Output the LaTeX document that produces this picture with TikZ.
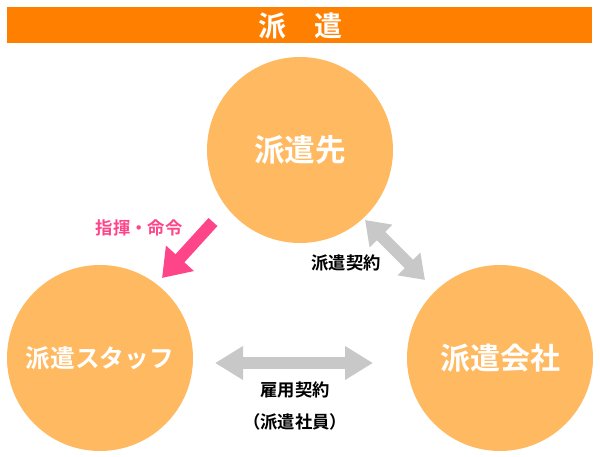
\documentclass[tikz,border=0pt]{standalone}
\usepackage{fontspec}
\newfontfamily\jp{Noto Sans CJK JP}[BoldFont={Noto Sans CJK JP Bold}]
\usetikzlibrary{arrows.meta}
\definecolor{banner}{HTML}{FF7F00}
\definecolor{disc}{HTML}{FFB961}
\definecolor{order}{HTML}{FF4589}
\definecolor{contract}{HTML}{C8C8C8}
\tikzset{
	party/.style={circle,fill=disc,minimum size=139.5pt,inner sep=0pt,text=white,font=\jp\bfseries},
	label/.style={font=\jp\bfseries\fontsize{13pt}{15pt}\selectfont},
	fat/.style={line width=9pt,draw=contract}
}
\begin{document}
\begin{tikzpicture}[x=0.75pt,y=-0.75pt]
			\useasboundingbox (0,0) rectangle (600,457);
			\fill[banner] (7,7) rectangle (592,43);
			\node[text=white,font=\jp\bfseries\fontsize{21pt}{24pt}\selectfont] (title) at (300,26) {派\hspace{1em}遣};
			
			\node[party,font=\jp\bfseries\fontsize{23pt}{26pt}\selectfont] (client) at (300,150) {派遣先};
			\node[party,font=\jp\bfseries\fontsize{18.5pt}{22pt}\selectfont] (staff) at (100,358) {派遣スタッフ};
			\node[party,font=\jp\bfseries\fontsize{22.5pt}{26pt}\selectfont] (agency) at (500,358) {派遣会社};
			
			\coordinate (o1) at (213,222);
			\coordinate (o2) at (162,278);
			\coordinate (d1) at (365,220);
			\coordinate (d2) at (425,280);
			\coordinate (e1) at (215,363);
			\coordinate (e2) at (373,363);
			
			\draw[line width=9pt,draw=order,-{Triangle[width=27pt,length=20pt]}] (o1) -- (o2);
			\draw[fat,{Triangle[width=23pt,length=17pt]}-{Triangle[width=23pt,length=17pt]}] (d1) -- (d2);
			\draw[fat,{Triangle[width=24pt,length=21pt]}-{Triangle[width=24pt,length=21pt]}] (e1) -- (e2);
			
			\node[label,text=order] (cmd) at (139,228) {指揮・命令};
			\node[label] (dispatch) at (346,263) {派遣契約};
			\node[label] (hire) at (295,390) {雇用契約};
			\node[label] (hire2) at (295,422) {（派遣社員）};
		\end{tikzpicture}
\end{document}
